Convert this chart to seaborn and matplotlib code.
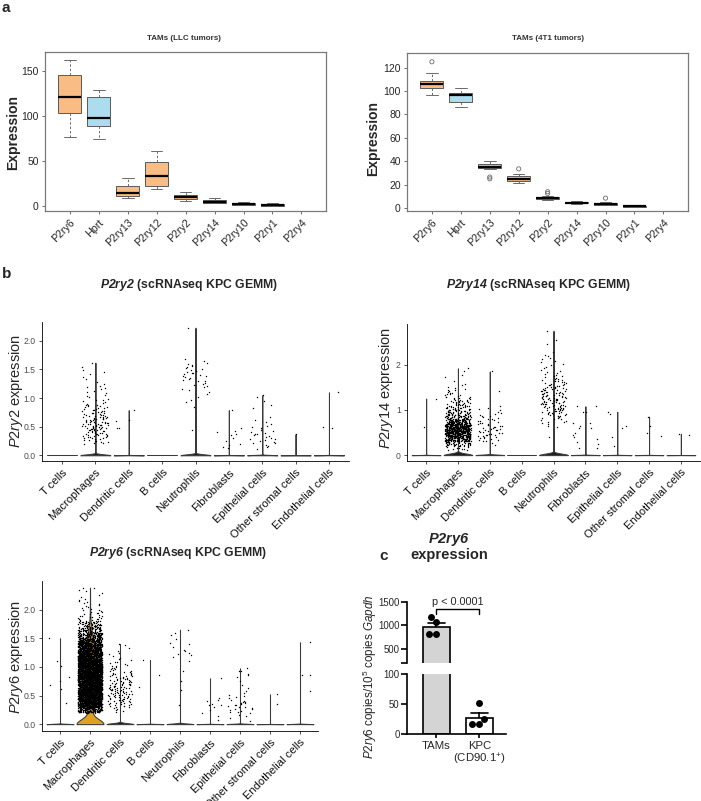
import numpy as np
import pandas as pd
import matplotlib
matplotlib.use("Agg")
import matplotlib.pyplot as plt
import seaborn as sns

# ---------------- panel a data (box summaries) ----------------
genes = ["P2ry6", "Hprt", "P2ry13", "P2ry12", "P2ry2", "P2ry14", "P2ry10", "P2ry1", "P2ry4"]
box_colors = ["#F9BC84", "#AEDCEF", "#F9BC84", "#F9BC84", "#F9BC84",
              "#F9BC84", "#F9BC84", "#F9BC84", "#F9BC84"]

llc_whislo = [77, 74, 9, 19, 5.5, 3, 1.2, 0.5, np.nan]
llc_q1 = [103, 89, 11, 22.5, 8, 3.5, 1.6, 0.6, np.nan]
llc_median = [121, 97.5, 15, 33, 10, 5, 2.5, 1.4, np.nan]
llc_q3 = [145, 121, 22, 49, 12, 6.5, 3.3, 2.2, np.nan]
llc_whishi = [162, 129, 31, 61, 15.5, 9, 4.5, 3, np.nan]

t1_whislo = [97, 86, 33, 21, 6.5, 3.5, 2.5, 0.8, np.nan]
t1_q1 = [103, 91, 34, 23, 7.5, 4, 3, 1.1, np.nan]
t1_median = [106, 96.5, 35, 24.5, 8.3, 4.6, 3.6, 1.5, np.nan]
t1_q3 = [109, 98.5, 37.5, 27, 9.3, 5.2, 4.2, 1.9, np.nan]
t1_whishi = [115, 102.5, 40, 29.5, 10.5, 6, 5.5, 2.3, np.nan]
t1_out_gene = ["P2ry6", "P2ry13", "P2ry13", "P2ry12", "P2ry2", "P2ry2", "P2ry10"]
t1_out_val = [125, 25, 26.5, 33.5, 12.5, 14, 8.5]

# ---------------- panel b data (scRNAseq, nonzero cells; dense groups as 0.1 bins) ----------------
cells = ["T cells", "Macrophages", "Dendritic cells", "B cells", "Neutrophils",
         "Fibroblasts", "Epithelial cells", "Other stromal cells", "Endothelial cells"]

p2ry2_zero_cells = [8000, 8000, 8000, 8000, 8000, 8000, 8000, 8000, 8000]
p2ry2_tcell = []
p2ry2_mac_bins_from_0_2 = [12, 18, 22, 25, 20, 14, 12, 6, 4, 5, 3, 2, 3, 1]
p2ry2_mac_extra = [1.62]
p2ry2_dc = [0.47, 0.47, 0.60, 0.62, 0.79]
p2ry2_bcell = []
p2ry2_neu_bins_from_0_8 = [1, 2, 2, 4, 5, 7, 8, 6, 3]
p2ry2_neu_extra = [0.45, 2.23]
p2ry2_fib = [0.12, 0.15, 0.18, 0.2, 0.25, 0.3, 0.35, 0.38, 0.4, 0.42, 0.48, 0.79]
p2ry2_epi_bins_from_0_1 = [4, 7, 7, 5, 3, 2, 0, 2, 1]
p2ry2_epi_extra = [1.02, 1.05]
p2ry2_other = [0.37]
p2ry2_endo = [0.48, 0.5, 1.1]

p2ry14_zero_cells = [8000, 8000, 8000, 8000, 8000, 8000, 8000, 8000, 8000]
p2ry14_tcell = [0.62, 1.25]
p2ry14_mac_bins_from_0_1 = [10, 40, 110, 160, 170, 140, 90, 50, 35, 25, 18, 12, 8, 5, 3, 1, 2, 1]
p2ry14_mac_extra = [1.92]
p2ry14_dc_bins_from_0_2 = [2, 8, 10, 10, 9, 7, 6, 4, 3]
p2ry14_dc_extra = [1.42, 1.85]
p2ry14_bcell = []
p2ry14_neu_bins_from_0_6 = [3, 6, 10, 14, 16, 17, 17, 16, 14, 11, 8, 6, 4, 3, 3, 3, 2]
p2ry14_neu_extra = [0.4, 2.45, 2.55, 2.75]
p2ry14_fib = [0.15, 0.15, 0.25, 0.3, 0.35, 0.4, 0.45, 0.5, 0.6, 0.6, 0.65, 0.7, 0.7,
              0.95, 0.95, 1.08, 1.08]
p2ry14_epi = [0.2, 0.4, 0.6, 0.65, 0.9, 0.96]
p2ry14_other = [0.42, 0.5, 0.65, 0.85]
p2ry14_endo = [0.45, 0.47]

p2ry6_zero_cells = [8000, 1500, 8000, 8000, 8000, 8000, 8000, 8000, 8000]
p2ry6_tcell = [0.37, 0.62, 0.68, 0.75, 0.82, 1.02, 1.1, 1.5]
p2ry6_mac_bins_from_0_2 = [150, 300, 350, 380, 400, 400, 400, 380, 360, 330, 290, 240,
                           180, 120, 70, 45, 15, 10, 6, 5, 3, 3]
p2ry6_mac_extra = [2.38]
p2ry6_dc_bins_from_0_2 = [6, 15, 20, 22, 22, 18, 14, 10, 7, 4, 3, 2]
p2ry6_dc_extra = [1.4]
p2ry6_bcell = [0.65, 0.85, 1.12]
p2ry6_neu = [0.33, 0.6, 0.75, 0.93, 1.1, 1.18, 1.2, 1.22, 1.25, 1.28, 1.3, 1.35, 1.4,
             1.42, 1.48, 1.55, 1.6, 1.65]
p2ry6_fib = [0.07, 0.15, 0.2, 0.25, 0.3, 0.33, 0.33, 0.35, 0.4, 0.42, 0.45, 0.8]
p2ry6_epi_bins_from_0_0 = [1, 4, 8, 9, 5, 3, 2, 1, 3, 2]
p2ry6_epi_extra = [0.93]
p2ry6_other = [0.36, 0.52]
p2ry6_endo = [0.57, 0.85, 0.85, 1.43]

# ---------------- panel c data ----------------
c_groups = ["TAMs", "KPC\n(CD90.1$^{+}$)"]
c_tams = [1070, 1170, 810, 810]
c_kpc = [51, 25, 16, 16]
c_colors = ["#D4D4D4", "#FFFFFF"]

# ---------------- style ----------------
sns.set_theme(style="white")
plt.rcParams["font.family"] = ["Liberation Sans", "DejaVu Sans"]
plt.rcParams["mathtext.fontset"] = "custom"
plt.rcParams["mathtext.rm"] = "Liberation Sans"
plt.rcParams["mathtext.it"] = "Liberation Sans:italic"
plt.rcParams["mathtext.bf"] = "Liberation Sans:bold"
plt.rcParams["mathtext.bfit"] = "Liberation Sans:bold:italic"
np.random.seed(7)

W, H = 701, 801
fig = plt.figure(figsize=(W / 100, H / 100), dpi=100)


def px(x0, y0, x1, y1):
    return [x0 / W, 1 - y1 / H, (x1 - x0) / W, (y1 - y0) / H]


def ftext(x, y, s, **kw):
    fig.text(x / W, 1 - y / H, s, **kw)


def expand_bins(start, counts, step=0.1):
    vals = []
    for i, n in enumerate(counts):
        if n:
            lo = start + i * step
            vals.extend(list(lo + step * (np.arange(n) + 0.5) / n))
    return vals


# ---------------- panel a ----------------
def box_panel(rect, wlo, q1, med, q3, whi, ylim, yticks, out_gene=None, out_val=None):
    ax = fig.add_axes(px(*rect))
    rows = []
    for g, a, b, c, d, e in zip(genes, wlo, q1, med, q3, whi):
        for v in (a, b, c, d, e):
            if not np.isnan(v):
                rows.append((g, v))
    df = pd.DataFrame(rows, columns=["gene", "value"])
    sns.boxplot(data=df, x="gene", y="value", order=genes, hue="gene", hue_order=genes,
                palette=box_colors, saturation=1, whis=(0, 100), width=0.8,
                linewidth=0.7, linecolor="#5a5a5a", legend=False, showfliers=False, ax=ax,
                whiskerprops=dict(linestyle=(0, (2.5, 2)), color="#6a6a6a"),
                capprops=dict(color="#6a6a6a"),
                medianprops=dict(color="black", linewidth=1.6))
    if out_gene:
        xpos = [genes.index(g) for g in out_gene]
        sns.scatterplot(x=xpos, y=out_val, ax=ax, marker="o", s=9, facecolor="none",
                        edgecolor="#6a6a6a", linewidth=0.6, legend=False)
    ax.set_xlim(-0.86, 8.85)
    ax.set_ylim(*ylim)
    ax.set_yticks(yticks)
    ax.set_yticklabels([str(t) for t in yticks], fontsize=7.5)
    ax.set_xticks(range(len(genes)))
    ax.set_xticklabels(genes, rotation=45, ha="right", rotation_mode="anchor", fontsize=7.7)
    ax.set_xlabel("")
    ax.set_ylabel("")
    ax.tick_params(axis="both", length=2.5, width=0.6, color="#555555", pad=2,
                   left=True, bottom=True)
    for s in ax.spines.values():
        s.set_color("#7a7a7a")
        s.set_linewidth(0.9)
    return ax


box_panel((45, 52, 326, 211), llc_whislo, llc_q1, llc_median, llc_q3, llc_whishi,
          (-5.5, 171), [0, 50, 100, 150])
box_panel((407, 53, 688, 211), t1_whislo, t1_q1, t1_median, t1_q3, t1_whishi,
          (-2.5, 132.5), [0, 20, 40, 60, 80, 100, 120], t1_out_gene, t1_out_val)

ftext(184, 39, "TAMs (LLC tumors)", ha="center", va="center", fontsize=5.8,
      fontweight="bold", color="#333333")
ftext(548, 39, "TAMs (4T1 tumors)", ha="center", va="center", fontsize=5.8,
      fontweight="bold", color="#333333")
ftext(13, 132, "Expression", ha="center", va="center", rotation=90, fontsize=10,
      fontweight="bold")
ftext(373, 139, "Expression", ha="center", va="center", rotation=90, fontsize=10,
      fontweight="bold")


# ---------------- panel b ----------------
def violin_panel(rect, zeros, nonzero, ylim, yticks, yticklabels, fills):
    ax = fig.add_axes(px(*rect))
    c_all, v_all, c_nz, v_nz = [], [], [], []
    for cell, nz, vals in zip(cells, zeros, nonzero):
        c_all += [cell] * (nz + len(vals))
        v_all += [0.0] * nz + list(vals)
        c_nz += [cell] * len(vals)
        v_nz += list(vals)
    df = pd.DataFrame({"cell": c_all, "expr": v_all})
    dnz = pd.DataFrame({"cell": c_nz, "expr": v_nz})
    sns.violinplot(data=df, x="cell", y="expr", order=cells, hue="cell", hue_order=cells,
                   palette=fills, saturation=1, cut=0, density_norm="width", inner=None,
                   width=0.9, linewidth=0.75, linecolor="#3a3a3a", legend=False, ax=ax,
                   gridsize=300)
    sns.stripplot(data=dnz, x="cell", y="expr", order=cells, color="black", size=1.0,
                  jitter=0.4, linewidth=0, ax=ax, zorder=3)
    ax.set_xlim(-0.6, 8.6)
    ax.set_ylim(*ylim)
    ax.set_yticks(yticks)
    ax.set_yticklabels(yticklabels, fontsize=6.2, color="#4D4D4D")
    ax.set_xticks(range(len(cells)))
    ax.set_xticklabels(cells, rotation=45, ha="right", rotation_mode="anchor",
                       fontsize=8, color="#111111")
    ax.set_xlabel("")
    ax.set_ylabel("")
    ax.tick_params(axis="both", length=2.5, width=0.6, color="#333333", pad=2,
                   left=True, bottom=True)
    for side in ("top", "right"):
        ax.spines[side].set_visible(False)
    for side in ("left", "bottom"):
        ax.spines[side].set_color("black")
        ax.spines[side].set_linewidth(0.6)
    return ax


dark = "#1e1e1e"
p2ry2_nonzero = [p2ry2_tcell,
                 expand_bins(0.2, p2ry2_mac_bins_from_0_2) + p2ry2_mac_extra,
                 p2ry2_dc, p2ry2_bcell,
                 expand_bins(0.8, p2ry2_neu_bins_from_0_8) + p2ry2_neu_extra,
                 p2ry2_fib,
                 expand_bins(0.1, p2ry2_epi_bins_from_0_1) + p2ry2_epi_extra,
                 p2ry2_other, p2ry2_endo]
violin_panel((42, 322, 349, 461), p2ry2_zero_cells, p2ry2_nonzero, (-0.1, 2.33),
             [0, 0.5, 1.0, 1.5, 2.0], ["0.0", "0.5", "1.0", "1.5", "2.0"], [dark] * 9)

p2ry14_nonzero = [p2ry14_tcell,
                  expand_bins(0.1, p2ry14_mac_bins_from_0_1) + p2ry14_mac_extra,
                  expand_bins(0.2, p2ry14_dc_bins_from_0_2) + p2ry14_dc_extra,
                  p2ry14_bcell,
                  expand_bins(0.6, p2ry14_neu_bins_from_0_6) + p2ry14_neu_extra,
                  p2ry14_fib, p2ry14_epi, p2ry14_other, p2ry14_endo]
violin_panel((407, 324, 700, 461), p2ry14_zero_cells, p2ry14_nonzero, (-0.13, 2.9),
             [0, 1, 2], ["0", "1", "2"], [dark] * 9)

p2ry6_nonzero = [p2ry6_tcell,
                 expand_bins(0.2, p2ry6_mac_bins_from_0_2) + p2ry6_mac_extra,
                 expand_bins(0.2, p2ry6_dc_bins_from_0_2) + p2ry6_dc_extra,
                 p2ry6_bcell, p2ry6_neu, p2ry6_fib,
                 expand_bins(0.0, p2ry6_epi_bins_from_0_0) + p2ry6_epi_extra,
                 p2ry6_other, p2ry6_endo]
violin_panel((42, 581, 318, 731), p2ry6_zero_cells, p2ry6_nonzero, (-0.12, 2.5),
             [0, 0.5, 1.0, 1.5, 2.0], ["0.0", "0.5", "1.0", "1.5", "2.0"],
             [dark, "#E0A020"] + [dark] * 7)

ftext(189, 285, r"$\bfit{P2ry2}$ (scRNAseq KPC GEMM)", ha="center", va="center",
      fontsize=8.8, fontweight="bold")
ftext(539, 285, r"$\bfit{P2ry14}$ (scRNAseq KPC GEMM)", ha="center", va="center",
      fontsize=8.8, fontweight="bold")
ftext(178, 553, r"$\bfit{P2ry6}$ (scRNAseq KPC GEMM)", ha="center", va="center",
      fontsize=8.8, fontweight="bold")
ftext(16, 391, r"$\it{P2ry2}$ expression", ha="center", va="center", rotation=90,
      fontsize=10.5)
ftext(386, 388, r"$\it{P2ry14}$ expression", ha="center", va="center", rotation=90,
      fontsize=10.5)
ftext(16, 657, r"$\it{P2ry6}$ expression", ha="center", va="center", rotation=90,
      fontsize=10.5)

# ---------------- panel c ----------------
cdf = pd.DataFrame({"group": [c_groups[0]] * len(c_tams) + [c_groups[1]] * len(c_kpc),
                    "value": c_tams + c_kpc})
ax_hi = fig.add_axes(px(407, 601.7, 506, 663.2))
ax_lo = fig.add_axes(px(407, 674, 506, 734))
for ax in (ax_hi, ax_lo):
    sns.barplot(data=cdf, x="group", y="value", order=c_groups, hue="group",
                hue_order=c_groups, palette=c_colors, saturation=1, legend=False,
                errorbar="se", capsize=0.4, width=0.63, edgecolor="black", linewidth=1.2,
                err_kws={"color": "black", "linewidth": 1.2, "zorder": 0.9}, ax=ax)
    sns.swarmplot(data=cdf, x="group", y="value", order=c_groups, color="black", size=5,
                  ax=ax, zorder=3)
    ax.set_xlim(-0.68, 1.62)
    ax.set_xlabel("")
    ax.set_ylabel("")
    for side in ("top", "right"):
        ax.spines[side].set_visible(False)
    for s in ax.spines.values():
        s.set_color("black")
        s.set_linewidth(1.2)
    ax.tick_params(axis="y", length=4, width=1.2, color="black", pad=1.2, left=True,
                   labelsize=6.9)

ax_hi.set_ylim(200, 1500)
ax_hi.set_yticks([200, 500, 1000, 1500])
ax_hi.set_yticklabels(["", "500", "1000", "1500"])
ax_hi.spines["bottom"].set_visible(False)
ax_hi.set_xticks([])
ax_lo.set_ylim(0, 100)
ax_lo.set_yticks([0, 50, 100])
ax_lo.set_yticklabels(["0", "50", "100"])
ax_lo.set_xticks([0, 1])
ax_lo.set_xticklabels(c_groups, fontsize=8.2, linespacing=1.1)
ax_lo.tick_params(axis="x", length=3, width=1.2, color="black", pad=2, bottom=True)

ax_hi.plot([0, 0, 1, 1], [1235, 1340, 1340, 1235], color="black", lw=1.0, clip_on=False)
ax_hi.text(0.5, 1500, "p < 0.0001", ha="center", va="center", fontsize=7.8, clip_on=False)

ftext(449, 540, r"$\bfit{P2ry6}$", ha="center", va="center", fontsize=10.5)
ftext(449, 555, "expression", ha="center", va="center", fontsize=10.5, fontweight="bold")
ftext(370, 677, r"$\it{P2ry6}$ copies/10$^{5}$ copies $\it{Gapdh}$", ha="center",
      va="center", rotation=90, fontsize=8.4)

# ---------------- panel letters ----------------
ftext(2, 1, "a", ha="left", va="top", fontsize=11, fontweight="bold")
ftext(2, 267, "b", ha="left", va="top", fontsize=11, fontweight="bold")
ftext(379, 549, "c", ha="left", va="top", fontsize=11, fontweight="bold")

fig.savefig("out.png", dpi=100)
